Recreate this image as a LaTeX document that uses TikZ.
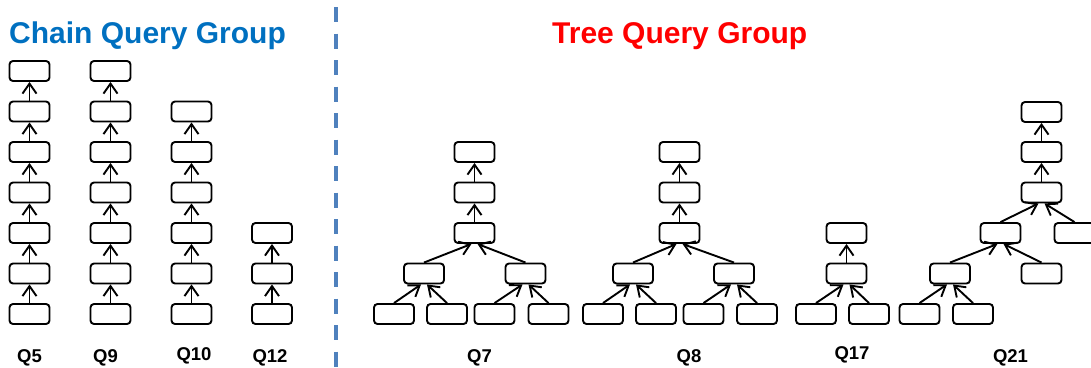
\documentclass[tikz,border=0pt]{standalone}
\usepackage{fontspec}
\setmainfont{Liberation Sans}
\usepackage{xcolor}
\usetikzlibrary{arrows.meta}
\definecolor{chainblue}{RGB}{0,112,192}
\definecolor{treered}{RGB}{255,0,0}
\definecolor{dashblue}{RGB}{79,129,189}
\tikzstyle{qbox} = [draw,line width=1.9pt,rounded corners=3.5pt,minimum width=40pt,minimum height=20pt,inner sep=0pt]
\tikzset{arr/.style={line width=1.9pt,-{Straight Barb[length=10pt,width=14pt]}}}
\tikzstyle{qlabel} = [anchor=base,inner sep=0pt,font=\fontsize{18.5}{22}\selectfont\bfseries]
\tikzstyle{grouptitle} = [anchor=base west,inner sep=0pt,font=\fontsize{30}{36}\selectfont\bfseries]

\begin{document}
\begin{tikzpicture}[x=1pt,y=-1pt]
  \clip (0,0) rectangle (1091,367);
  \node[grouptitle,text=chainblue] (chain) at (9,43) {Chain Query Group};
  \node[grouptitle,text=treered] (tree) at (552,43) {Tree Query Group};
  \draw[dashblue,line width=3.5pt,dash pattern=on 15pt off 11.5pt] (336,7) -- (336,367);

  \foreach \col/\cx/\n in {q5/29.5/7,q9/110.5/7,q10/191.5/6,q12/272/3} {
    \foreach \i in {1,...,\n}
      \node[qbox] (\col-\i) at ({\cx},{314-40.5*(\i-1)}) {};
    \foreach \i in {2,...,\n} {
      \pgfmathtruncatemacro\k{\i-1}
      \draw[arr] (\col-\k.north) -- (\col-\i.south);
    }
  }

  \node[qbox] (t1) at (474.5,152) {};
  \node[qbox] (t2) at (474.5,192.5) {};
  \node[qbox] (t3) at (474.5,233) {};
  \node[qbox] (t4) at (424,273.5) {};
  \node[qbox] (t5) at (525.5,273.5) {};
  \node[qbox] (t6) at (394,314) {};
  \node[qbox] (t7) at (447,314) {};
  \node[qbox] (t8) at (494.5,314) {};
  \node[qbox] (t9) at (548.5,314) {};

  \node[qbox] (u1) at (679.5,152) {};
  \node[qbox] (u2) at (679.5,192.5) {};
  \node[qbox] (u3) at (679.5,233) {};
  \node[qbox] (u4) at (633,273.5) {};
  \node[qbox] (u5) at (734,273.5) {};
  \node[qbox] (u6) at (603,314) {};
  \node[qbox] (u7) at (656,314) {};
  \node[qbox] (u8) at (703.5,314) {};
  \node[qbox] (u9) at (757,314) {};

  \node[qbox] (s1) at (846.5,233) {};
  \node[qbox] (s2) at (846.5,273.5) {};
  \node[qbox] (s3) at (816,314) {};
  \node[qbox] (s4) at (869,314) {};

  \node[qbox] (r1) at (1041.5,112) {};
  \node[qbox] (r2) at (1041.5,152) {};
  \node[qbox] (r3) at (1041.5,192.5) {};
  \node[qbox] (r4) at (1000.5,233) {};
  \node[qbox] (r5) at (1074.5,233) {};
  \node[qbox] (r6) at (950,273.5) {};
  \node[qbox] (r7) at (1041.5,273.5) {};
  \node[qbox] (r8) at (919.5,314) {};
  \node[qbox] (r9) at (973,314) {};

  \path[arr]
    (t2.north) edge (t1.south)
    (t3.north) edge (t2.south)
    (t4.north) edge ([xshift=-3pt]t3.south)
    (t5.north) edge ([xshift=3pt]t3.south)
    (t6.north) edge ([xshift=-3pt]t4.south)
    (t7.north) edge ([xshift=3pt]t4.south)
    (t8.north) edge ([xshift=-3pt]t5.south)
    (t9.north) edge ([xshift=3pt]t5.south)
    (u2.north) edge (u1.south)
    (u3.north) edge (u2.south)
    (u4.north) edge ([xshift=-3pt]u3.south)
    (u5.north) edge ([xshift=3pt]u3.south)
    (u6.north) edge ([xshift=-3pt]u4.south)
    (u7.north) edge ([xshift=3pt]u4.south)
    (u8.north) edge ([xshift=-3pt]u5.south)
    (u9.north) edge ([xshift=3pt]u5.south)
    (s2.north) edge (s1.south)
    (s3.north) edge ([xshift=-3pt]s2.south)
    (s4.north) edge ([xshift=3pt]s2.south)
    (r2.north) edge (r1.south)
    (r3.north) edge (r2.south)
    (r4.north) edge ([xshift=-3pt]r3.south)
    (r5.north) edge ([xshift=3pt]r3.south)
    (r6.north) edge ([xshift=-3pt]r4.south)
    (r7.north) edge ([xshift=3pt]r4.south)
    (r8.north) edge ([xshift=-3pt]r6.south)
    (r9.north) edge ([xshift=3pt]r6.south);

  \node[qlabel] (l5) at (29.5,362) {Q5};
  \node[qlabel] (l9) at (105.5,362) {Q9};
  \node[qlabel] (l10) at (194,360) {Q10};
  \node[qlabel] (l12) at (270,362) {Q12};
  \node[qlabel] (l7) at (479.5,362) {Q7};
  \node[qlabel] (l8) at (689,362) {Q8};
  \node[qlabel] (l17) at (852,359) {Q17};
  \node[qlabel] (l21) at (1010.5,362) {Q21};
\end{tikzpicture}
\end{document}
